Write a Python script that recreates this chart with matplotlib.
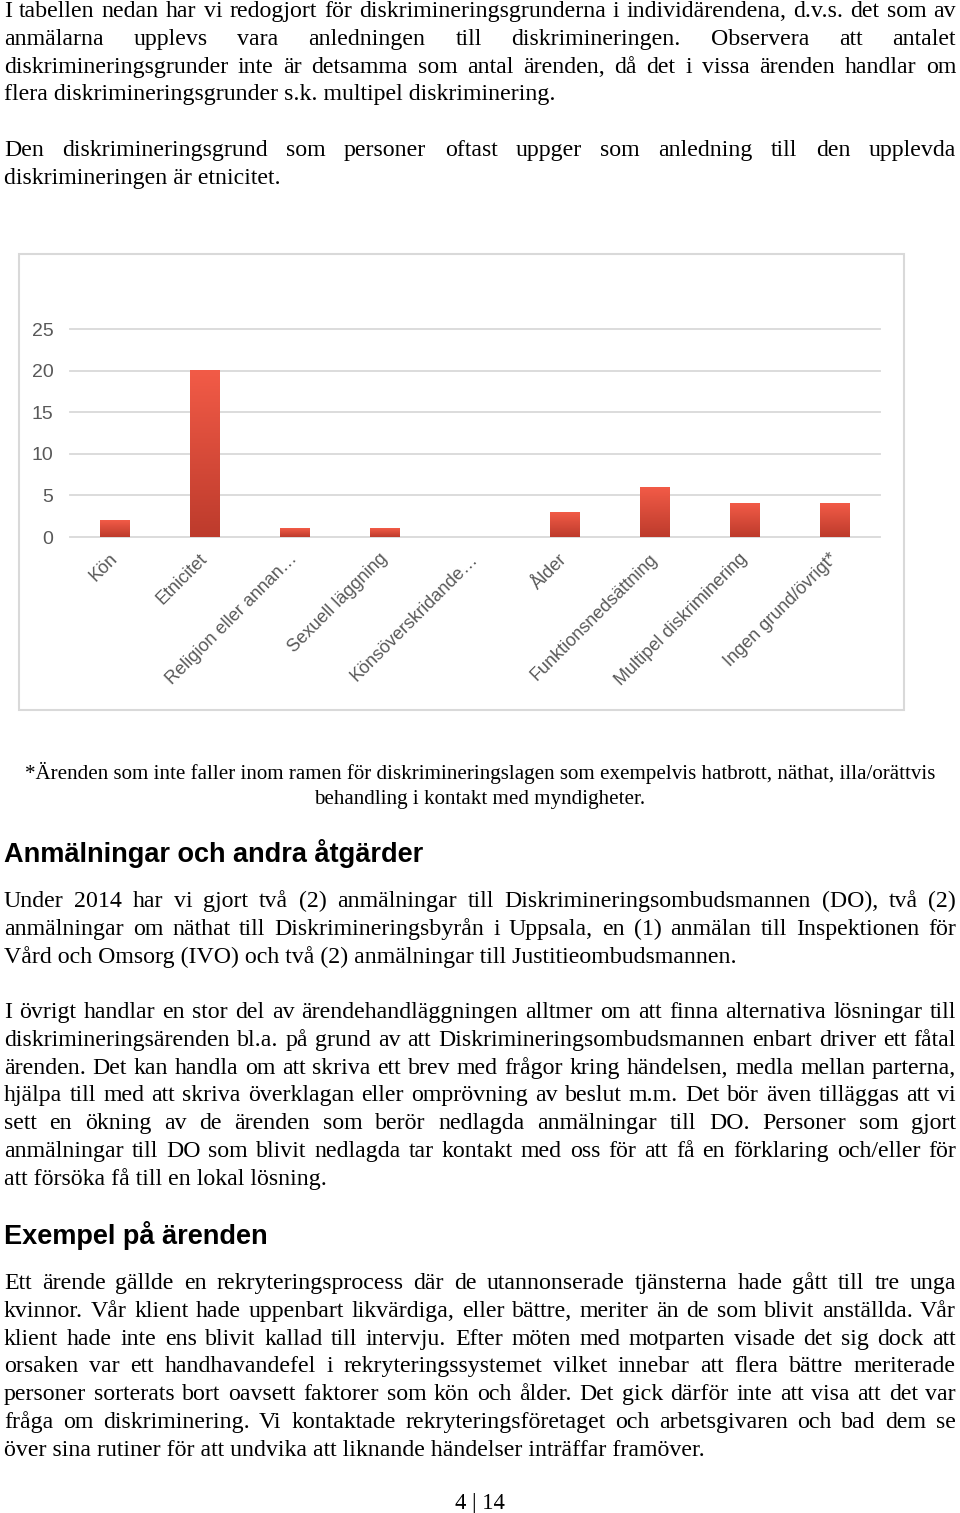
import matplotlib
matplotlib.use('Agg')
import matplotlib.pyplot as plt
import numpy as np
from matplotlib.colors import LinearSegmentedColormap
from matplotlib.patches import Rectangle

# chart data
categories = ['Kön', 'Etnicitet', 'Religion eller annan…', 'Sexuell läggning',
              'Könsöverskridande…', 'Ålder', 'Funktionsnedsättning',
              'Multipel diskriminering', 'Ingen grund/övrigt*']
values = [2, 20, 1, 1, 0, 3, 6, 4, 4]
yticks = [0, 5, 10, 15, 20, 25]

# page text
para1 = [
    "I tabellen nedan har vi redogjort för diskrimineringsgrunderna i individärendena, d.v.s. det som av",
    "anmälarna upplevs vara anledningen till diskrimineringen. Observera att antalet",
    "diskrimineringsgrunder inte är detsamma som antal ärenden, då det i vissa ärenden handlar om",
    "flera diskrimineringsgrunder s.k. multipel diskriminering.",
]
para2 = [
    "Den diskrimineringsgrund som personer oftast uppger som anledning till den upplevda",
    "diskrimineringen är etnicitet.",
]
footnote = [
    "*Ärenden som inte faller inom ramen för diskrimineringslagen som exempelvis hatbrott, näthat, illa/orättvis",
    "behandling i kontakt med myndigheter.",
]
heading1 = "Anmälningar och andra åtgärder"
para3 = [
    "Under 2014 har vi gjort två (2) anmälningar till Diskrimineringsombudsmannen (DO), två (2)",
    "anmälningar om näthat till Diskrimineringsbyrån i Uppsala, en (1) anmälan till Inspektionen för",
    "Vård och Omsorg (IVO) och två (2) anmälningar till Justitieombudsmannen.",
]
para4 = [
    "I övrigt handlar en stor del av ärendehandläggningen alltmer om att finna alternativa lösningar till",
    "diskrimineringsärenden bl.a. på grund av att Diskrimineringsombudsmannen enbart driver ett fåtal",
    "ärenden. Det kan handla om att skriva ett brev med frågor kring händelsen, medla mellan parterna,",
    "hjälpa till med att skriva överklagan eller omprövning av beslut m.m. Det bör även tilläggas att vi",
    "sett en ökning av de ärenden som berör nedlagda anmälningar till DO. Personer som gjort",
    "anmälningar till DO som blivit nedlagda tar kontakt med oss för att få en förklaring och/eller för",
    "att försöka få till en lokal lösning.",
]
heading2 = "Exempel på ärenden"
para5 = [
    "Ett ärende gällde en rekryteringsprocess där de utannonserade tjänsterna hade gått till tre unga",
    "kvinnor. Vår klient hade uppenbart likvärdiga, eller bättre, meriter än de som blivit anställda. Vår",
    "klient hade inte ens blivit kallad till intervju. Efter möten med motparten visade det sig dock att",
    "orsaken var ett handhavandefel i rekryteringssystemet vilket innebar att flera bättre meriterade",
    "personer sorterats bort oavsett faktorer som kön och ålder. Det gick därför inte att visa att det var",
    "fråga om diskriminering. Vi kontaktade rekryteringsföretaget och arbetsgivaren och bad dem se",
    "över sina rutiner för att undvika att liknande händelser inträffar framöver.",
]
page_no = "4 | 14"

SERIF = 'Liberation Serif'
SANS = 'Liberation Sans'
W, H = 960, 1513


def fx(x):
    return x / W


def fy(y):
    return 1 - y / H


fig = plt.figure(figsize=(W / 100, H / 100), dpi=100)
renderer = fig.canvas.get_renderer()


def text_width(s, size, **kw):
    t = fig.text(0, 0, s, fontsize=size, **kw)
    w = t.get_window_extent(renderer).width
    t.remove()
    return w


def fit_size(s, target, **kw):
    return 10 * target / text_width(s, 10, **kw)


def put_paragraph(lines, y0, size, step=27.8, left=4, right=956):
    for i, line in enumerate(lines):
        y = y0 + i * step
        words = line.split(' ')
        if i == len(lines) - 1:
            fig.text(fx(left), fy(y), line, fontsize=size, family=SERIF,
                     va='baseline', ha='left')
            continue
        widths = [text_width(w, size, family=SERIF) for w in words]
        gap = (right - left - sum(widths)) / (len(words) - 1)
        x = left
        for w, wd in zip(words, widths):
            fig.text(fx(x), fy(y), w, fontsize=size, family=SERIF,
                     va='baseline', ha='left')
            x += wd + gap


# body font size: tightest justified line fills the text width
justified = para1[:-1] + para2[:-1] + para3[:-1] + para4[:-1] + para5[:-1]
body = min(fit_size(l, 952, family=SERIF) for l in justified) * 0.99

put_paragraph(para1, 17, body)
put_paragraph(para2, 156, body)
put_paragraph(para3, 907, body)
put_paragraph(para4, 1018, body)
put_paragraph(para5, 1289, body)

fsize = fit_size(footnote[0], 906, family=SERIF)
for i, line in enumerate(footnote):
    fig.text(0.5, fy(779 + i * 25), line, fontsize=fsize, family=SERIF,
             ha='center', va='baseline')

h1 = fit_size(heading1, 421, family=SANS, weight='bold')
fig.text(fx(4), fy(862), heading1, fontsize=h1, family=SANS, weight='bold',
         va='baseline')
fig.text(fx(4), fy(1244), heading2, fontsize=h1, family=SANS, weight='bold',
         va='baseline')

fig.text(fx(480), fy(1509), page_no, fontsize=fit_size(page_no, 50, family=SERIF),
         family=SERIF, ha='center', va='baseline')

# chart frame
fig.add_artist(Rectangle((fx(19), fy(710)), (904 - 19) / W, (710 - 254) / H,
                         transform=fig.transFigure, fill=False,
                         edgecolor='#d9d9d9', lw=1.5))

ax = fig.add_axes([fx(70), fy(537), (880 - 70) / W, (537 - 329) / H])
x = np.arange(len(categories))
bars = ax.bar(x, values, width=0.33, color='none', edgecolor='none')

grad = np.linspace(0, 1, 256).reshape(-1, 1)
cmap = LinearSegmentedColormap.from_list('bar', ['#bd3b2c', '#f25b47'])
for b in bars:
    if b.get_height() <= 0:
        continue
    ax.imshow(grad, extent=[b.get_x(), b.get_x() + b.get_width(), 0, b.get_height()],
              origin='lower', cmap=cmap, aspect='auto', zorder=3)

for v in yticks:
    ax.axhline(v, color='#d9d9d9', lw=1.3, zorder=0, clip_on=False)

ax.set_xlim(-0.5, len(categories) - 0.5)
ax.set_ylim(0, 25)
ax.set_yticks(yticks)
ax.set_xticks(x)
ax.set_xticklabels(categories, rotation=45, ha='right', va='center',
                   rotation_mode='anchor', fontsize=13, color='#595959',
                   family=SANS)
for lab in ax.get_yticklabels():
    lab.set_family(SANS)
ax.tick_params(axis='y', length=0, pad=12, labelsize=14, labelcolor='#595959')
ax.tick_params(axis='x', length=0, pad=14)
for s in ax.spines.values():
    s.set_visible(False)
ax.patch.set_alpha(0)

fig.savefig('out.png', dpi=100)
